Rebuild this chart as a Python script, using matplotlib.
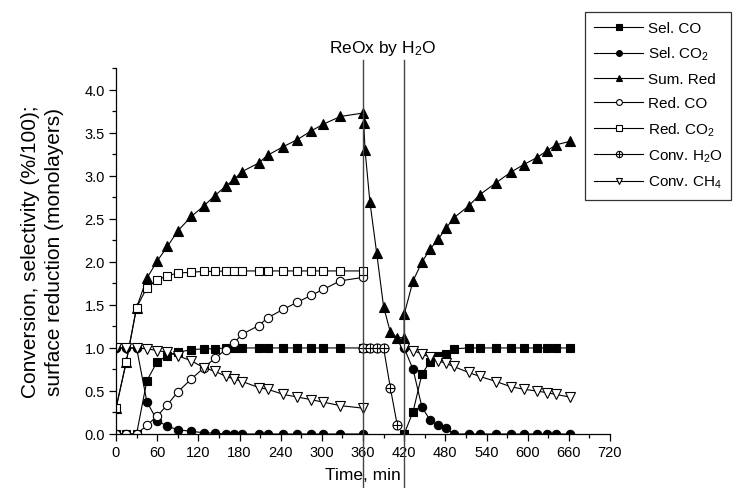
import numpy as np
import matplotlib
matplotlib.use("Agg")
import matplotlib.pyplot as plt
from matplotlib.path import Path

plt.rcParams['font.family'] = ['Liberation Sans', 'DejaVu Sans']
plt.rcParams['mathtext.fontset'] = 'custom'
plt.rcParams['mathtext.rm'] = 'Liberation Sans'
plt.rcParams['mathtext.it'] = 'Liberation Sans'

# reduction by CH4 (first run)
t_red1 = [0, 15, 30, 45, 60, 75, 90, 110, 128, 144, 160, 172, 184, 208, 221, 244, 264, 284, 302, 327, 360]
sel_co_1 = [0, 0, 0, 0.62, 0.84, 0.91, 0.95, 0.98, 0.99, 0.99, 1.0, 1.0, 1.0, 1.0, 1.0, 1.0, 1.0, 1.0, 1.0, 1.0, 1.0]
sel_co2_1 = [1.0, 1.0, 1.0, 0.375, 0.155, 0.09, 0.05, 0.03, 0.015, 0.01, 0, 0, 0, 0, 0, 0, 0, 0, 0, 0, 0]
sum_red_1 = [0.30, 0.84, 1.47, 1.81, 2.01, 2.18, 2.36, 2.53, 2.65, 2.77, 2.88, 2.96, 3.05, 3.15, 3.24, 3.34, 3.42, 3.52, 3.60, 3.69, 3.73]
red_co_1 = [0, 0, 0, 0.10, 0.21, 0.34, 0.49, 0.64, 0.77, 0.88, 0.98, 1.06, 1.16, 1.26, 1.35, 1.45, 1.53, 1.61, 1.68, 1.78, 1.82]
red_co2_1 = [0.30, 0.84, 1.47, 1.70, 1.79, 1.84, 1.87, 1.88, 1.89, 1.89, 1.895, 1.895, 1.895, 1.895, 1.895, 1.895, 1.895, 1.895, 1.895, 1.895, 1.895]
conv_ch4_1 = [1.0, 1.0, 1.0, 0.99, 0.97, 0.95, 0.91, 0.85, 0.77, 0.73, 0.67, 0.64, 0.61, 0.54, 0.52, 0.46, 0.43, 0.40, 0.37, 0.33, 0.30]

# reoxidation by H2O
t_reox = [361, 363, 370, 380, 390, 400, 410, 420]
sum_red_reox = [3.62, 3.30, 2.70, 2.10, 1.48, 1.18, 1.12, 1.12]
t_h2o = [360, 370, 380, 390, 400, 410]
conv_h2o = [1.0, 1.0, 1.0, 1.0, 0.53, 0.10]

# reduction by CH4 (second run)
t_red2 = [420, 433, 446, 458, 470, 481, 492, 514, 530, 554, 575, 594, 613, 628, 641, 661]
sel_co_2 = [0, 0.26, 0.70, 0.84, 0.91, 0.93, 0.99, 1, 1, 1, 1, 1, 1, 1, 1, 1]
sel_co2_2 = [1.0, 0.75, 0.31, 0.16, 0.10, 0.07, 0.0, 0, 0, 0, 0, 0, 0, 0, 0, 0]
sum_red_2 = [1.39, 1.78, 2.00, 2.15, 2.27, 2.39, 2.51, 2.65, 2.78, 2.92, 3.04, 3.13, 3.21, 3.29, 3.36, 3.40]
conv_ch4_2 = [1.0, 0.97, 0.93, 0.89, 0.85, 0.82, 0.785, 0.715, 0.67, 0.61, 0.55, 0.52, 0.50, 0.48, 0.46, 0.43]

reox_start, reox_end = 360, 420


def join(*parts):
    # glue segments with NaN breaks so one Line2D gives one legend entry
    out = []
    for i, p in enumerate(parts):
        if i:
            out.append(np.nan)
        out.extend(p)
    return np.array(out, dtype=float)


# circle with a plus inside for Conv. H2O
circ = Path.unit_circle()
plus = Path([(-1, 0), (1, 0), (0, -1), (0, 1)],
            [Path.MOVETO, Path.LINETO, Path.MOVETO, Path.LINETO])
oplus = Path.make_compound_path(circ, plus)

fig = plt.figure(figsize=(7.36, 4.89), dpi=100)
ax = fig.add_axes([116 / 736, 1 - 435 / 489, 494 / 736, 365.7 / 489])

lw = 0.8
common = dict(color='black', lw=lw, markeredgecolor='black', markeredgewidth=0.8)

ax.plot(join(t_red1, t_red2), join(sel_co_1, sel_co_2), marker='s', ms=5.5,
        mfc='black', label='Sel. CO', **common)
ax.plot(join(t_red1, t_red2), join(sel_co2_1, sel_co2_2), marker='o', ms=6,
        mfc='black', label='Sel. CO$_2$', **common)
ax.plot(list(t_red1) + t_reox + t_red2, list(sum_red_1) + sum_red_reox + sum_red_2,
        marker='^', ms=7, mfc='black', label='Sum. Red', **common)
ax.plot(t_red1, red_co_1, marker='o', ms=6, mfc='white', label='Red. CO', **common)
ax.plot(t_red1, red_co2_1, marker='s', ms=6, mfc='white', label='Red. CO$_2$', **common)
ax.plot(t_h2o, conv_h2o, marker=oplus, ms=6.5, mfc='white', label='Conv. H$_2$O', **common)
ax.plot(join(t_red1, t_red2), join(conv_ch4_1, conv_ch4_2), marker='v', ms=6.5,
        mfc='white', label='Conv. CH$_4$', **common)

ax.set_xlim(0, 720)
ax.set_ylim(0, 4.25)
ax.set_xticks(np.arange(0, 721, 60))
ax.set_xticks(np.arange(30, 721, 60), minor=True)
ax.set_yticks(np.arange(0, 4.01, 0.5))
ax.set_yticks(np.arange(0.25, 4.26, 0.5), minor=True)
ax.yaxis.set_major_formatter(matplotlib.ticker.FormatStrFormatter('%.1f'))
ax.spines['top'].set_visible(False)
ax.spines['right'].set_visible(False)
for s in ('left', 'bottom'):
    ax.spines[s].set_linewidth(0.9)
ax.tick_params(which='major', direction='out', length=5, width=0.9, labelsize=10.5, pad=3)
ax.tick_params(which='minor', direction='out', length=3, width=0.9)

ax.set_xlabel('Time, min', fontsize=12.5, labelpad=6)
ax.set_ylabel('Conversion, selectivity (%/100);\nsurface reduction (monolayers)',
              fontsize=15, labelpad=15, linespacing=1.3)

# reoxidation window markers
trans = ax.get_xaxis_transform()
for xv in (reox_start, reox_end):
    ax.plot([xv, xv], [-0.148, 1.023], transform=trans, color='#444444',
            lw=1.0, clip_on=False, zorder=5)
ax.text(388, 1.045, 'ReOx by H$_2$O', transform=trans, ha='center', va='baseline',
        fontsize=12.5)

leg = fig.legend(loc='upper left', bbox_to_anchor=(585 / 736, 1 - 13 / 489),
                 frameon=True, fancybox=False, edgecolor='black', fontsize=11,
                 handlelength=3.2, handletextpad=0.3, labelspacing=0.65,
                 borderpad=0.6, markerscale=0.7, borderaxespad=0)
leg.get_frame().set_linewidth(0.9)

fig.savefig('out.png', dpi=100)
